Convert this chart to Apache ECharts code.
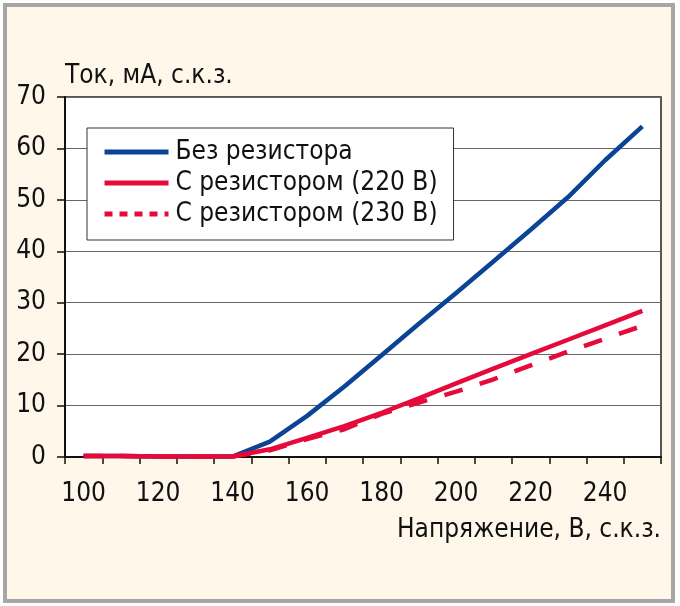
<!DOCTYPE html>
<html>
<head>
<meta charset="utf-8">
<script src="https://cdn.jsdelivr.net/npm/echarts@6/dist/echarts.min.js"></script>
<style>
  html, body { margin: 0; padding: 0; background: #fff; }
  #chart { width: 680px; height: 606px; }
</style>
</head>
<body>
<div id="chart"></div>
<script>
var FONT = "'Liberation Sans Narrow', 'DejaVu Sans Condensed', sans-serif";

// напряжение, В
var voltage = ['100','110','120','130','140','150','160','170','180','190','200','210','220','230','240','250'];
// ток, мА
var noResistor = [0.2, 0.2, 0.1, 0.1, 0.1, 3.0, 8.0, 13.7, 19.8, 25.9, 31.9, 38.0, 44.2, 50.5, 57.7, 64.3];
var resistor220 = [0.2, 0.2, 0.1, 0.1, 0.1, 1.5, 3.7, 6.0, 8.6, 11.4, 14.3, 17.2, 20.0, 22.8, 25.6, 28.4];
var resistor230 = [0.2, 0.2, 0.1, 0.1, 0.1, 1.3, 3.5, 5.4, 8.4, 10.6, 12.7, 15.1, 17.8, 20.5, 23.0, 25.5];

var names = ['Без резистора', 'С резистором (220 В)', 'С резистором (230 В)'];
var blue = '#0b4397';
var red = '#e60a3b';

var myChart = echarts.init(document.getElementById('chart'));

var option = {
    backgroundColor: '#ffffff',
    animation: false,
    textStyle: { fontFamily: FONT },
    graphic: [{
        type: 'rect',
        z: -10,
        shape: { x: 5, y: 5, width: 668, height: 596 },
        style: { fill: '#fff7e9', stroke: '#a6a6a6', lineWidth: 4 }
    }],
    grid: {
        left: 65,
        right: 19,
        top: 97,
        bottom: 149,
        show: true,
        backgroundColor: '#ffffff',
        borderColor: '#222',
        borderWidth: 1.5
    },
    legend: {
        orient: 'vertical',
        left: 87,
        top: 128,
        width: 365,
        backgroundColor: '#ffffff',
        borderColor: '#333',
        borderWidth: 1,
        padding: [11, 16, 13, 15],
        itemWidth: 64,
        itemHeight: 5,
        itemGap: 5,
        itemStyle: { opacity: 0 },
        textStyle: { fontFamily: FONT, fontSize: 26, color: '#111', padding: [0, 0, 0, 2] },
        data: [
            { name: names[0], lineStyle: { width: 5 } },
            { name: names[1], lineStyle: { width: 5 } },
            { name: names[2], lineStyle: { width: 5, type: [8, 7] } }
        ]
    },
    xAxis: {
        type: 'category',
        data: voltage,
        boundaryGap: true,
        name: 'Напряжение, В, с.к.з.',
        nameLocation: 'end',
        nameGap: 0,
        nameTextStyle: {
            fontFamily: FONT, fontSize: 26, color: '#111',
            align: 'right', verticalAlign: 'top', padding: [60, 0, 0, 0]
        },
        axisLine: { lineStyle: { color: '#111', width: 2 } },
        axisTick: { show: true, interval: 0, length: 7, lineStyle: { color: '#111', width: 1.5 } },
        axisLabel: { interval: 1, margin: 24, fontFamily: FONT, fontSize: 26, color: '#111' },
        splitLine: { show: false }
    },
    yAxis: {
        type: 'value',
        min: 0,
        max: 70,
        interval: 10,
        name: 'Ток, мА, с.к.з.',
        nameLocation: 'end',
        nameGap: 8,
        nameTextStyle: { fontFamily: FONT, fontSize: 26, color: '#111', align: 'left' },
        axisLine: { show: true, lineStyle: { color: '#111', width: 2 } },
        axisTick: { show: true, length: 8, lineStyle: { color: '#111', width: 1.5 } },
        axisLabel: { margin: 19, fontFamily: FONT, fontSize: 26, color: '#111' },
        splitLine: { lineStyle: { color: '#666', width: 1 } }
    },
    series: [{
        name: names[0],
        type: 'line',
        data: noResistor,
        symbol: 'none',
        lineStyle: { color: blue, width: 4.5 },
        itemStyle: { color: blue }
    }, {
        name: names[1],
        type: 'line',
        data: resistor220,
        symbol: 'none',
        lineStyle: { color: red, width: 4.5 },
        itemStyle: { color: red }
    }, {
        name: names[2],
        type: 'line',
        data: resistor230,
        symbol: 'none',
        lineStyle: { color: red, width: 4.5, type: [19, 18] },
        itemStyle: { color: red }
    }]
};

myChart.setOption(option);
</script>
</body>
</html>
